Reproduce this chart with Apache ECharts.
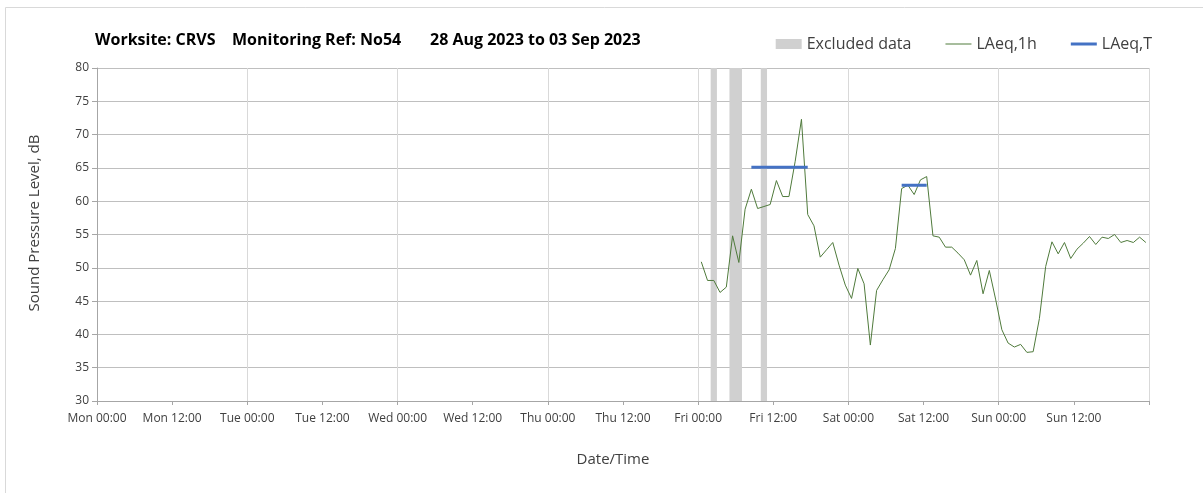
<!DOCTYPE html>
<html>
<head>
<meta charset="utf-8">
<style>
  html, body { margin: 0; padding: 0; background: #fff; }
  #chart { width: 1203px; height: 493px; }
</style>
<script src="https://cdn.jsdelivr.net/npm/echarts@6/dist/echarts.min.js"></script>
</head>
<body>
<div id="chart"></div>
<script>
// hours counted from Mon 00:00
const dayNames = ['Mon', 'Tue', 'Wed', 'Thu', 'Fri', 'Sat', 'Sun', 'Mon']
const firstHour = 96.5 // first hourly value, Fri 00:30 (mid of period)
const laeq1h = [
  50.9, 48.1, 48.1, 46.3, 47.1, 54.8, 50.8, 58.8, 61.8, 58.9,
  59.2, 59.5, 63.1, 60.7, 60.7, 66.0, 72.3, 58.0, 56.3, 51.6,
  52.7, 53.8, 50.4, 47.4, 45.4, 49.9, 47.6, 38.4, 46.6, 48.2,
  49.7, 52.9, 61.9, 62.4, 61.0, 63.2, 63.7, 54.8, 54.6, 53.1,
  53.1, 52.2, 51.2, 48.9, 51.1, 46.1, 49.6, 45.3, 40.7, 38.7,
  38.1, 38.5, 37.3, 37.4, 42.4, 50.2, 53.9, 52.1, 53.8, 51.4,
  52.8, 53.7, 54.7, 53.5, 54.6, 54.4, 55.0, 53.8, 54.1, 53.8,
  54.6, 53.8
]
// excluded periods (hours from Mon 00:00)
const excludedStart = [98, 101, 106]
const excludedEnd = [99, 103, 107]
// LAeq,T periods
const periodStart = [104.5, 128.5]
const periodEnd = [113.5, 132.5]
const periodLevel = [65.1, 62.4]

const font = '"Open Sans", Lato, sans-serif'
const textColor = '#404040'

const lineData = laeq1h.map((v, i) => [firstHour + i, v])
const tData = []
periodLevel.forEach((lv, i) => {
  if (i > 0) tData.push([(periodEnd[i - 1] + periodStart[i]) / 2, '-'])
  tData.push([periodStart[i], lv])
  tData.push([periodEnd[i], lv])
})
const excludedAreas = excludedStart.map((s, i) => [{ xAxis: s }, { xAxis: excludedEnd[i] }])

const formatHour = (h) => {
  const day = dayNames[Math.floor(h / 24)]
  const hh = h % 24
  return day + ' ' + String(hh).padStart(2, '0') + ':00'
}

const titleFont = 'bold 16px ' + font

const chart = echarts.init(document.getElementById('chart'))
chart.setOption({
  animation: false,
  textStyle: { fontFamily: font },
  graphic: [
    {
      type: 'rect',
      shape: { x: 5.5, y: 7.5, width: 1300, height: 600 },
      style: { fill: 'none', stroke: '#d9d9d9', lineWidth: 1 },
      silent: true
    },
    { type: 'text', x: 95, y: 40, style: { text: 'Worksite: CRVS', font: titleFont, fill: '#000', verticalAlign: 'middle' } },
    { type: 'text', x: 232, y: 40, style: { text: 'Monitoring Ref: No54', font: titleFont, fill: '#000', verticalAlign: 'middle' } },
    { type: 'text', x: 430, y: 40, style: { text: '28 Aug 2023 to 03 Sep 2023', font: titleFont, fill: '#000', verticalAlign: 'middle' } },
    {
      type: 'text',
      x: 613,
      y: 460,
      style: { text: 'Date/Time', font: '15px ' + font, fill: textColor, align: 'center', verticalAlign: 'middle' }
    },
    {
      type: 'text',
      x: 35,
      y: 223,
      rotation: Math.PI / 2,
      style: { text: 'Sound Pressure Level, dB', font: '15px ' + font, fill: textColor, align: 'center', verticalAlign: 'middle' }
    }
  ],
  legend: {
    top: 31,
    right: 46,
    itemWidth: 26,
    itemHeight: 10,
    itemGap: 34,
    textStyle: { fontSize: 16, color: textColor, fontFamily: font },
    data: [
      { name: 'Excluded data', icon: 'rect', itemStyle: { color: '#d0d0d0' } },
      { name: 'LAeq,1h', icon: 'path://M0,0h26v1h-26z', itemStyle: { color: '#4f7a3b' } },
      { name: 'LAeq,T', icon: 'path://M0,0h26v3h-26z', itemStyle: { color: '#4472c4' } }
    ]
  },
  grid: { left: 97, right: 54, top: 68, bottom: 92 },
  xAxis: [
    {
      type: 'value',
      min: 0,
      max: 168,
      interval: 12,
      axisLine: { show: true, onZero: false, lineStyle: { color: '#a6a6a6' } },
      axisTick: { show: true, length: 4, lineStyle: { color: '#a6a6a6' } },
      axisLabel: { color: textColor, fontSize: 12, margin: 12, formatter: (v) => (v < 168 ? formatHour(v) : '') },
      splitLine: { show: false }
    },
    {
      type: 'value',
      min: 0,
      max: 168,
      interval: 24,
      position: 'bottom',
      axisLine: { show: false },
      axisTick: { show: false },
      axisLabel: { show: false },
      splitLine: { show: true, lineStyle: { color: '#d9d9d9', width: 1 } }
    }
  ],
  yAxis: {
    type: 'value',
    min: 30,
    max: 80,
    interval: 5,
    axisLine: { show: true, lineStyle: { color: '#a6a6a6' } },
    axisTick: { show: true, length: 5, lineStyle: { color: '#a6a6a6' } },
    axisLabel: { color: textColor, fontSize: 12, margin: 8 },
    splitLine: { show: true, lineStyle: { color: '#bfbfbf', width: 1 } }
  },
  series: [
    {
      name: 'Excluded data',
      type: 'line',
      data: [],
      itemStyle: { color: '#d0d0d0' },
      markArea: {
        silent: true,
        itemStyle: { color: '#d0d0d0' },
        data: excludedAreas
      }
    },
    {
      name: 'LAeq,1h',
      type: 'line',
      data: lineData,
      symbol: 'none',
      lineStyle: { color: '#4f7a3b', width: 1 },
      itemStyle: { color: '#4f7a3b' }
    },
    {
      name: 'LAeq,T',
      type: 'line',
      data: tData,
      symbol: 'none',
      connectNulls: false,
      lineStyle: { color: '#4472c4', width: 3 },
      itemStyle: { color: '#4472c4' }
    }
  ]
})
</script>
</body>
</html>
